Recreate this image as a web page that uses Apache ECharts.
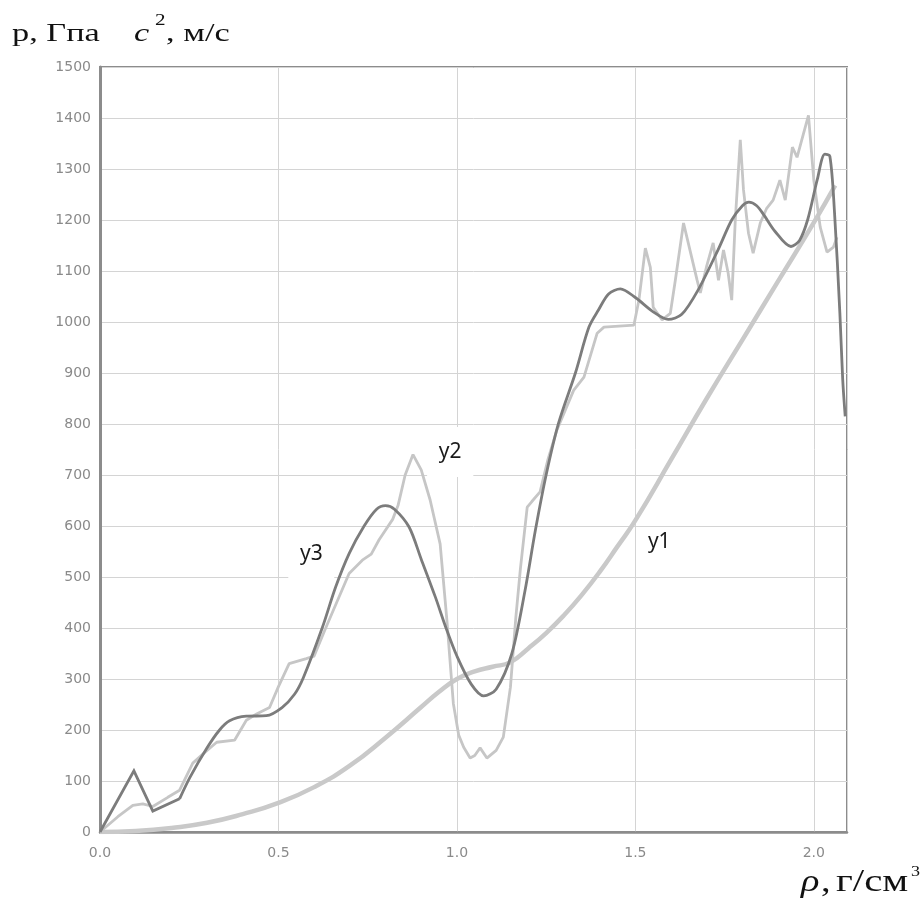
<!DOCTYPE html>
<html>
<head>
<meta charset="utf-8">
<script src="https://cdn.jsdelivr.net/npm/echarts@6/dist/echarts.min.js"></script>
<style>
  html, body { margin: 0; padding: 0; background: #fff; }
  #chart { width: 922px; height: 904px; }
</style>
</head>
<body>
<div id="chart"></div>
<script>
// Density axis range and tick step
const xMin = 0;
const xMax = 2.093;
const xStep = 0.5;
// Value axis range and tick step
const yMin = 0;
const yMax = 1500;
const yStep = 100;

// y1: smooth pressure curve, [density, value]
const y1Points = [
  [0, 0], [0.1, 2], [0.2, 8], [0.3, 18], [0.4, 35], [0.5, 57], [0.6, 88],
  [0.7, 130], [0.8, 185], [0.9, 245], [0.95, 275], [1.0, 300], [1.05, 315],
  [1.1, 324], [1.15, 333], [1.2, 360], [1.25, 390], [1.3, 425], [1.35, 465],
  [1.4, 510], [1.45, 560], [1.5, 611], [1.6, 730], [1.7, 850], [1.8, 965],
  [1.9, 1080], [2.0, 1195], [2.06, 1268]
];

// y2: raw (noisy) sound-speed squared, [density, value]
const y2Points = [
  [0, 0], [0.05, 30], [0.092, 52], [0.12, 55], [0.148, 50], [0.19, 68],
  [0.223, 82], [0.26, 135], [0.3, 160], [0.327, 176], [0.377, 180], [0.41, 219],
  [0.44, 232], [0.475, 244], [0.5, 285], [0.53, 330], [0.578, 340], [0.6, 345],
  [0.633, 401], [0.698, 507], [0.735, 533], [0.76, 545], [0.782, 573],
  [0.82, 613], [0.835, 640], [0.855, 700], [0.877, 740], [0.9, 710],
  [0.925, 651], [0.953, 565], [0.972, 415], [0.99, 252], [1.005, 190],
  [1.019, 166], [1.037, 145], [1.05, 150], [1.065, 165], [1.084, 145],
  [1.11, 160], [1.13, 186], [1.15, 284], [1.165, 420], [1.178, 517],
  [1.197, 637], [1.21, 648], [1.233, 667], [1.255, 730], [1.28, 788],
  [1.327, 866], [1.356, 892], [1.393, 978], [1.412, 990], [1.496, 994],
  [1.51, 1043], [1.528, 1145], [1.542, 1107], [1.55, 1029], [1.575, 1004],
  [1.598, 1017], [1.612, 1082], [1.635, 1194], [1.673, 1082], [1.682, 1057],
  [1.7, 1110], [1.718, 1155], [1.733, 1082], [1.747, 1141], [1.76, 1096],
  [1.77, 1043], [1.78, 1200], [1.794, 1357], [1.803, 1259], [1.817, 1174],
  [1.83, 1135], [1.85, 1194], [1.868, 1223], [1.886, 1239], [1.905, 1278],
  [1.92, 1239], [1.94, 1343], [1.953, 1323], [1.985, 1405], [2.0, 1278],
  [2.018, 1186], [2.037, 1137], [2.055, 1147], [2.065, 1166]
];

// y3: smoothed sound-speed squared, [density, value]
const y3Points = [
  [0, 0], [0.095, 120], [0.148, 41], [0.223, 65], [0.252, 107], [0.3, 165],
  [0.335, 200], [0.363, 218], [0.41, 227], [0.466, 228], [0.51, 244],
  [0.545, 270], [0.57, 303], [0.623, 401], [0.66, 480], [0.698, 546],
  [0.74, 600], [0.775, 633], [0.8, 640], [0.825, 633], [0.866, 598],
  [0.9, 535], [0.94, 460], [0.969, 401], [1.0, 345], [1.04, 290],
  [1.075, 267], [1.11, 280], [1.154, 350], [1.19, 470], [1.22, 592],
  [1.25, 700], [1.285, 802], [1.332, 900], [1.37, 990], [1.397, 1024],
  [1.425, 1055], [1.458, 1065], [1.5, 1048], [1.55, 1020], [1.592, 1005],
  [1.63, 1015], [1.676, 1063], [1.732, 1142], [1.77, 1200], [1.8, 1228],
  [1.818, 1235], [1.84, 1228], [1.86, 1210], [1.891, 1178], [1.936, 1148],
  [1.96, 1160], [1.983, 1201], [2.01, 1280], [2.031, 1329], [2.045, 1325],
  [2.058, 1215], [2.073, 1018], [2.081, 887], [2.088, 815]
];
// y3 starts with straight segments (sharp corners), then turns smooth
const y3CornerEnd = 3;

// Curve names and where their captions sit, [density, value]
const curveNames = ['y1', 'y2', 'y3'];
const captionAt = {
  y1: [1.567, 568],
  y2: [0.981, 745],
  y3: [0.592, 546]
};

const gridGray = '#d4d4d4';
const frameGray = '#8c8c8c';
const labelGray = '#8a8a8a';
const y3Color = '#7c7c7c';

function caption(name, boxSize) {
  return {
    silent: true,
    z: 10,
    data: [{
      coord: captionAt[name],
      symbol: 'rect',
      symbolSize: boxSize,
      itemStyle: { color: '#ffffff' },
      label: {
        show: true,
        position: 'inside',
        formatter: name,
        color: '#1a1a1a',
        fontFamily: 'Noto Sans',
        fontSize: 21
      }
    }]
  };
}

const chart = echarts.init(document.getElementById('chart'), null, { renderer: 'canvas' });

chart.setOption({
  animation: false,
  backgroundColor: '#ffffff',
  grid: {
    left: 100, right: 75, top: 67, bottom: 72,
    show: true,
    borderColor: frameGray,
    borderWidth: 2,
    backgroundColor: 'transparent'
  },
  xAxis: {
    type: 'value',
    min: xMin, max: xMax, interval: xStep,
    axisLine: { show: true, onZero: false, lineStyle: { color: frameGray, width: 2.5 } },
    axisTick: { show: false },
    splitLine: { show: true, lineStyle: { color: gridGray, width: 1 } },
    axisLabel: {
      color: labelGray, fontFamily: 'DejaVu Sans', fontSize: 14, margin: 14,
      showMaxLabel: false,
      formatter: v => v.toFixed(1)
    }
  },
  yAxis: {
    type: 'value',
    min: yMin, max: yMax, interval: yStep,
    axisLine: { show: true, onZero: false, lineStyle: { color: frameGray, width: 3 } },
    axisTick: { show: false },
    splitLine: { show: true, lineStyle: { color: gridGray, width: 1 } },
    axisLabel: {
      color: labelGray, fontFamily: 'DejaVu Sans', fontSize: 14, margin: 9,
      formatter: v => String(v)
    }
  },
  series: [
    {
      name: curveNames[0], type: 'line', data: y1Points, showSymbol: false,
      smooth: true, z: 2,
      lineStyle: { color: '#c9c9c9', width: 4.5 },
      markPoint: caption('y1', [28, 24])
    },
    {
      name: curveNames[1], type: 'line', data: y2Points, showSymbol: false,
      smooth: false, z: 3,
      lineStyle: { color: '#c6c6c6', width: 2.8 },
      markPoint: caption('y2', [46, 50])
    },
    {
      name: curveNames[2], type: 'line', data: y3Points.slice(0, y3CornerEnd + 1),
      showSymbol: false, smooth: false, z: 4,
      lineStyle: { color: y3Color, width: 2.8, join: 'miter' }
    },
    {
      name: curveNames[2], type: 'line', data: y3Points.slice(y3CornerEnd),
      showSymbol: false, smooth: 0.3, z: 4,
      lineStyle: { color: y3Color, width: 2.8 },
      markPoint: caption('y3', [46, 50])
    }
  ],
  graphic: [
    // value axis title: p, Гпа   c², м/с
    { type: 'text', x: 12, y: 34, scaleX: 1.32, silent: true,
      style: { text: 'p, Гпа', font: '26px "Liberation Serif"', fill: '#111', align: 'left', verticalAlign: 'middle' } },
    { type: 'text', x: 134, y: 34, scaleX: 1.32, silent: true,
      style: { text: 'c', font: 'italic 26px "Liberation Serif"', fill: '#111', align: 'left', verticalAlign: 'middle' } },
    { type: 'text', x: 155, y: 21, scaleX: 1.32, silent: true,
      style: { text: '2', font: '16px "Liberation Serif"', fill: '#111', align: 'left', verticalAlign: 'middle' } },
    { type: 'text', x: 166, y: 34, scaleX: 1.32, silent: true,
      style: { text: ', м/с', font: '26px "Liberation Serif"', fill: '#111', align: 'left', verticalAlign: 'middle' } },
    // density axis title: ρ, г/см³
    { type: 'text', x: 801, y: 883, scaleX: 1.2, silent: true,
      style: { text: 'ρ', font: 'italic 32px "Liberation Serif"', fill: '#111', align: 'left', verticalAlign: 'middle' } },
    { type: 'text', x: 821, y: 883, scaleX: 1.2, silent: true,
      style: { text: ',', font: '32px "Liberation Serif"', fill: '#111', align: 'left', verticalAlign: 'middle' } },
    { type: 'text', x: 836, y: 883, scaleX: 1.28, silent: true,
      style: { text: 'г/см', font: '32px "Liberation Serif"', fill: '#111', align: 'left', verticalAlign: 'middle' } },
    { type: 'text', x: 911, y: 872, scaleX: 1.2, silent: true,
      style: { text: '3', font: '15px "Liberation Serif"', fill: '#111', align: 'left', verticalAlign: 'middle' } }
  ]
});
</script>
</body>
</html>
